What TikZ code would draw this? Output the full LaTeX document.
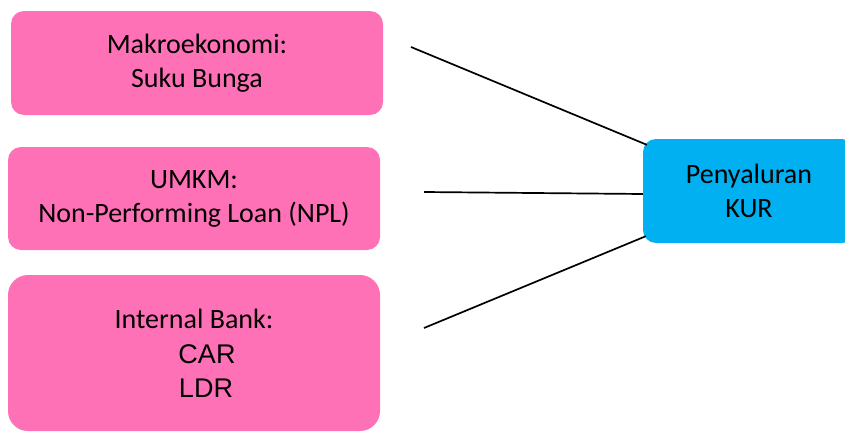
\documentclass[tikz,border=0pt]{standalone}
\usepackage{fontspec}
\setmainfont{Carlito}
\newfontfamily\arialfont{Liberation Sans}
\usepackage{tikz}
\usetikzlibrary{calc}
\definecolor{boxpink}{RGB}{255,113,183}
\definecolor{boxblue}{RGB}{0,176,240}
\tikzset{
  factor/.style={fill=boxpink, rounded corners=13pt, align=center,
    minimum width=372pt, inner sep=0pt,
    font=\fontsize{28}{34}\selectfont},
  target/.style={fill=boxblue, rounded corners=13pt, align=center,
    minimum width=212pt, minimum height=104pt, inner sep=0pt,
    font=\fontsize{28}{34}\selectfont},
  link/.style={line width=1.7pt}
}
\begin{document}
\begin{tikzpicture}[x=1pt, y=-1pt]
  \useasboundingbox (0,0) rectangle (845,431);

  \node[factor, minimum height=104pt] (makro) at (197,63) {Makroekonomi:\\Suku Bunga};
  \node[factor, minimum height=103pt] (umkm) at (194,198.5) {UMKM:\\Non-Performing Loan (NPL)};
  \node[factor, minimum height=156pt, rounded corners=20pt] (bank) at (194,353)
    {Internal Bank:\\[1pt]
     \hspace*{26pt}{\arialfont\fontsize{27}{32}\selectfont CAR}\\
     \hspace*{24pt}{\arialfont\fontsize{27}{32}\selectfont LDR}};
  \node[target] (kur) at (749,191) {Penyaluran\\KUR};

  \coordinate (makro-end) at (411,47);
  \coordinate (umkm-end) at (424,192);
  \coordinate (bank-end) at (424,328);

  \draw[link] (makro-end) -- ($(kur.north west)+(4,6)$);
  \draw[link] (umkm-end) -- (kur.west |- 0,194);
  \draw[link] (bank-end) -- ($(kur.south west)+(3,-7)$);
\end{tikzpicture}
\end{document}
